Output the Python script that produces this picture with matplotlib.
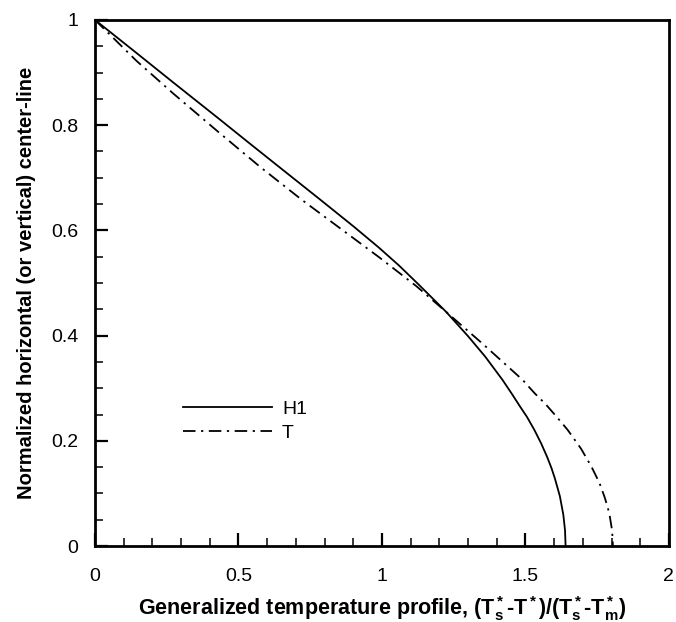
import matplotlib
matplotlib.use("Agg")
import matplotlib.pyplot as plt
from matplotlib.ticker import MultipleLocator, FuncFormatter

plt.rcParams['font.family'] = ['Liberation Sans', 'DejaVu Sans']
plt.rcParams['mathtext.fontset'] = 'custom'
plt.rcParams['mathtext.rm'] = 'Liberation Sans:bold'
plt.rcParams['mathtext.it'] = 'Liberation Sans:bold'
plt.rcParams['mathtext.bf'] = 'Liberation Sans:bold'
plt.rcParams['mathtext.default'] = 'regular'
plt.rcParams['lines.scale_dashes'] = False

# Data
h1_x = [0.0, 0.145, 0.273, 0.43, 0.535, 0.65, 0.786, 0.90, 0.99, 1.06, 1.13,
        1.224, 1.30, 1.36, 1.42, 1.452, 1.478, 1.506, 1.531, 1.555, 1.576, 1.591,
        1.603, 1.62, 1.632, 1.638, 1.64]
h1_y = [1.0, 0.937, 0.881, 0.813, 0.767, 0.717, 0.658, 0.608, 0.567, 0.533, 0.496,
        0.445, 0.399, 0.360, 0.316, 0.290, 0.268, 0.245, 0.221, 0.195, 0.169, 0.148,
        0.128, 0.095, 0.060, 0.030, 0.0]

t_x = [0.0, 0.145, 0.273, 0.43, 0.577, 0.721, 0.99, 1.12, 1.224, 1.35, 1.49,
       1.533, 1.57, 1.61, 1.647, 1.694, 1.731, 1.758, 1.776, 1.786, 1.793, 1.802, 1.805]
t_y = [1.0, 0.922, 0.860, 0.787, 0.720, 0.658, 0.549, 0.494, 0.445, 0.385, 0.316,
       0.290, 0.270, 0.245, 0.221, 0.185, 0.150, 0.120, 0.093, 0.075, 0.060, 0.030, 0.0]

x_ticks = [0, 0.5, 1, 1.5, 2]
y_ticks = [0, 0.2, 0.4, 0.6, 0.8, 1]

fig = plt.figure(figsize=(6.76, 6.22), dpi=100)
ax = fig.add_axes([0.1405, 0.122, 0.849, 0.846])

ax.plot(h1_x, h1_y, color='black', lw=1.3, label='H1')
ax.plot(t_x, t_y, color='black', lw=1.3, ls=(0, (9, 4, 1.6, 4)), label='T')

ax.set_xlim(0, 2)
ax.set_ylim(0, 1)
ax.set_xticks(x_ticks)
ax.set_yticks(y_ticks)
ax.xaxis.set_minor_locator(MultipleLocator(0.1))
ax.yaxis.set_minor_locator(MultipleLocator(0.05))
fmt = FuncFormatter(lambda v, p: '%g' % v)
ax.xaxis.set_major_formatter(fmt)
ax.yaxis.set_major_formatter(fmt)

ax.tick_params(which='both', direction='in', top=False, right=False)
ax.tick_params(which='major', length=9.5, width=1.6, labelsize=14)
ax.tick_params(which='minor', length=5.8, width=1.1)
ax.tick_params(axis='x', which='major', pad=16)
ax.tick_params(axis='y', which='major', pad=12)

for s in ax.spines.values():
    s.set_linewidth(2.0)

ax.set_xlabel('Generalized temperature profile, (T$^*_s$-T$^*$)/(T$^*_s$-T$^*_m$)',
              fontsize=15.5, fontweight='bold', labelpad=6)
ax.set_ylabel('Normalized horizontal (or vertical) center-line',
              fontsize=14.5, fontweight='bold', labelpad=11)

ax.legend(loc='upper left', bbox_to_anchor=(0.153, 0.2776), frameon=False,
          fontsize=14, handlelength=4.6, handletextpad=0.5, borderpad=0,
          borderaxespad=0, labelspacing=0.35)

fig.savefig('out.png', dpi=100)
